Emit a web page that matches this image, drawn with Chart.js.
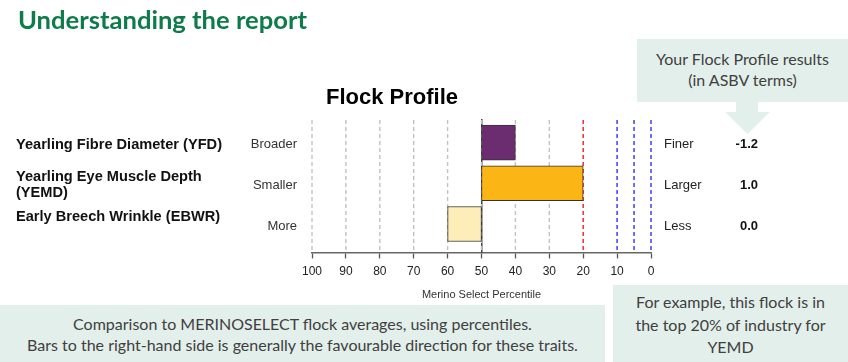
<!DOCTYPE html>
<html>
<head>
<meta charset="utf-8">
<script src="https://cdn.jsdelivr.net/npm/chart.js@4.4.1/dist/chart.umd.min.js"></script>
<style>
  html, body { margin: 0; padding: 0; background: #fff; }
  #wrap { position: relative; width: 848px; height: 362px; overflow: hidden; }
  #c { position: absolute; left: 0; top: 0; }
  .t { position: absolute; white-space: nowrap; line-height: 1; }
  .h1 { left: 18px; top: 4px; font: bold 25.6px Lato, "Open Sans", sans-serif; color: #0e7b4b; }
  .ftitle { left: 392px; top: 84px; transform: translateX(-50%); font: bold 22px "Liberation Sans", Arial, sans-serif; color: #000; }
  .cat { left: 16px; font: bold 14.6px "Liberation Sans", Arial, sans-serif; color: #111; line-height: 16px; }
  .low { right: 551px; font: 13px "Liberation Sans", Arial, sans-serif; color: #333; text-align: right; }
  .high { left: 664px; font: 13px "Liberation Sans", Arial, sans-serif; color: #222; }
  .val { right: 90px; font: bold 13px "Liberation Sans", Arial, sans-serif; color: #111; text-align: right; }
  .box { position: absolute; background: #e3efea; color: #404040; font: 16px Lato, "Open Sans", sans-serif; text-align: center; }
  .arrow { position: absolute; left: 725px; top: 101px; width: 45px; height: 33px; background: #e3efea;
           clip-path: polygon(11px 0, 33px 0, 33px 11px, 45px 11px, 22.5px 33px, 0 11px, 11px 11px); }
</style>
</head>
<body>
<div id="wrap">
  <canvas id="c" width="848" height="362"></canvas>
  <div class="t h1">Understanding the report</div>
  <div class="t ftitle">Flock Profile</div>

  <div class="box" style="left:637px; top:39px; width:211px; height:63px; line-height:21px; padding-top:9px; box-sizing:border-box;">Your Flock Profile results<br>(in ASBV terms)</div>
  <div class="arrow"></div>

  <div class="box" style="left:0; top:305px; width:605px; height:57px; line-height:21px; padding-top:8px; box-sizing:border-box;">Comparison to MERINOSELECT flock averages, using percentiles.<br>Bars to the right-hand side is generally the favourable direction for these traits.</div>
  <div class="box" style="left:613px; top:285px; width:235px; height:77px; line-height:22.5px; padding-top:6px; box-sizing:border-box;">For example, this flock is in<br>the top 20% of industry for<br>YEMD</div>

  <div id="labels"></div>
</div>
<script>
// ---- data ----
const categories = [
  ['Yearling Fibre Diameter (YFD)'],
  ['Yearling Eye Muscle Depth', '(YEMD)'],
  ['Early Breech Wrinkle (EBWR)']
];
const lowLabels = ['Broader', 'Smaller', 'More'];
const highLabels = ['Finer', 'Larger', 'Less'];
const asbvValues = ['-1.2', '1.0', '0.0'];
const barStart = [50, 50, 60];
const barEnd = [40, 20, 50];
const tickValues = [100, 90, 80, 70, 60, 50, 40, 30, 20, 10, 0];
const extraLines = [5];
const axisTitle = 'Merino Select Percentile';

// ---- styling ----
const barColors = ['#6b2d6f', '#fbb514', '#fdedb9'];
function lineColor(v) {
  if (v <= 10) return '#4a4af5';
  if (v === 20) return '#ec3a42';
  return '#c2c2c2';
}

// ---- HTML side labels ----
const catTops = [136, 168, 208];
const sideTops = [136, 177, 218];
const labels = document.getElementById('labels');
categories.forEach((lines, i) => {
  const d = document.createElement('div');
  d.className = 't cat';
  d.style.top = catTops[i] + 'px';
  d.innerHTML = lines.join('<br>');
  labels.appendChild(d);
  const lo = document.createElement('div');
  lo.className = 't low'; lo.style.top = sideTops[i] + 'px'; lo.textContent = lowLabels[i];
  labels.appendChild(lo);
  const hi = document.createElement('div');
  hi.className = 't high'; hi.style.top = sideTops[i] + 'px'; hi.textContent = highLabels[i];
  labels.appendChild(hi);
  const v = document.createElement('div');
  v.className = 't val'; v.style.top = sideTops[i] + 'px'; v.textContent = asbvValues[i];
  labels.appendChild(v);
});

// ---- chart ----
const allTicks = tickValues.concat(extraLines);

const refGrid = {
  id: 'refGrid',
  beforeDatasetsDraw(chart) {
    const { ctx, chartArea, scales } = chart;
    ctx.save();
    ctx.setLineDash([4, 3]);
    allTicks.forEach(v => {
      const x = scales.x.getPixelForValue(v);
      const c = lineColor(v);
      ctx.lineWidth = c === '#c2c2c2' ? 1.4 : 1.6;
      ctx.strokeStyle = c;
      ctx.beginPath();
      ctx.moveTo(x, chartArea.top);
      ctx.lineTo(x, chartArea.bottom);
      ctx.stroke();
    });
    ctx.restore();
  }
};

new Chart(document.getElementById('c'), {
  type: 'bar',
  data: {
    datasets: [{
      data: categories.map((c, i) => ({ y: i, x: [barStart[i], barEnd[i]] })),
      backgroundColor: barColors,
      borderColor: '#333',
      borderWidth: 1,
      borderSkipped: false,
      barThickness: 35
    }]
  },
  plugins: [refGrid],
  options: {
    indexAxis: 'y',
    responsive: false,
    animation: false,
    events: [],
    layout: { padding: { left: 312, right: 197, top: 120, bottom: 56 } },
    plugins: { legend: { display: false }, tooltip: { enabled: false } },
    scales: {
      x: {
        type: 'linear',
        min: 0, max: 100,
        reverse: true,
        afterBuildTicks: (s) => { s.ticks = tickValues.map(v => ({ value: v })); },
        ticks: {
          autoSkip: false,
          maxRotation: 0,
          padding: 6,
          color: '#222',
          font: { family: 'Liberation Sans, Arial, sans-serif', size: 12 }
        },
        grid: {
          drawOnChartArea: false,
          color: '#555',
          tickLength: 6,
          tickColor: '#555',
          tickWidth: 1.3
        },
        border: { display: true, color: '#666', width: 1.5 },
        title: {
          display: true,
          text: axisTitle,
          color: '#333',
          font: { family: 'Liberation Sans, Arial, sans-serif', size: 11 },
          padding: { top: 4, bottom: 4 }
        }
      },
      y: {
        type: 'linear',
        reverse: true,
        offset: false,
        min: -0.554,
        max: 2.697,
        position: { x: 50 },
        ticks: { display: false },
        grid: { display: false, offset: false },
        border: { display: true, color: '#444', width: 1.5 }
      }
    }
  }
});
</script>
</body>
</html>
